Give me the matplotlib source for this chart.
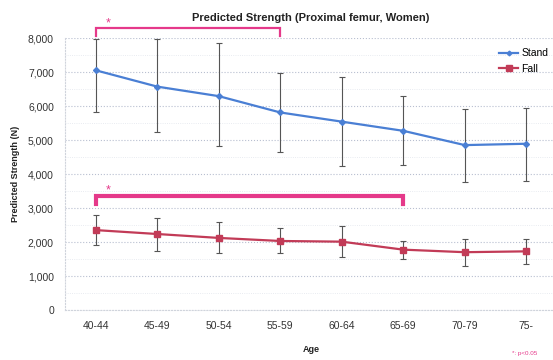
"""Predicted strength of the proximal femur by age group (women)."""

import matplotlib

matplotlib.use("Agg")
import matplotlib.pyplot as plt
from matplotlib.ticker import FuncFormatter, MultipleLocator

ages = ["40-44", "45-49", "50-54", "55-59", "60-64", "65-69", "70-79", "75-"]

stand_mean = [7050, 6570, 6290, 5810, 5540, 5270, 4850, 4890]
stand_upper = [7970, 7960, 7860, 6980, 6840, 6290, 5910, 5940]
stand_lower = [5830, 5230, 4820, 4660, 4240, 4270, 3760, 3800]

fall_mean = [2350, 2235, 2120, 2030, 2010, 1775, 1700, 1725]
fall_upper = [2790, 2700, 2580, 2400, 2470, 2030, 2090, 2100]
fall_lower = [1900, 1735, 1670, 1685, 1560, 1500, 1300, 1345]

# significance brackets: (first group, last group, level, foot, line width)
brackets = [(0, 3, 8290, 8050, 1.6), (0, 5, 3360, 3110, 3.0)]

STAND = "#4a7fd4"
FALL = "#c23b57"
PINK = "#e5398a"
FONT = ["Liberation Sans", "DejaVu Sans"]

plt.rcParams["font.family"] = FONT

fig = plt.figure(figsize=(5.53, 3.6), dpi=100)
ax = fig.add_axes([65 / 553, 1 - 310 / 360, 492 / 553, 272 / 360])

x = list(range(len(ages)))


def draw(mean, upper, lower, color, marker, ms, label):
    yerr = [[m - lo for m, lo in zip(mean, lower)], [u - m for m, u in zip(mean, upper)]]
    ax.errorbar(x, mean, yerr=yerr, fmt="none", ecolor="#555555",
                elinewidth=0.8, capsize=2, capthick=0.8, zorder=2)
    ax.plot(x, mean, color=color, marker=marker, markersize=ms, lw=1.6,
            label=label, zorder=3)


draw(stand_mean, stand_upper, stand_lower, STAND, "D", 3, "Stand")
draw(fall_mean, fall_upper, fall_lower, FALL, "s", 5, "Fall")

for i0, i1, level, foot, lw in brackets:
    ax.plot([i0, i0, i1, i1], [foot, level, level, foot], color=PINK, lw=lw,
            clip_on=False, solid_joinstyle="miter", zorder=4)
    ax.text(i0 + 0.2, level - 30, "*", color=PINK, fontsize=9,
            ha="center", va="bottom", clip_on=False)

ax.set_xlim(-0.5, len(ages) - 0.5)
ax.set_ylim(0, 8000)
ax.set_xticks(x)
ax.set_xticklabels(ages)
ax.yaxis.set_major_locator(MultipleLocator(1000))
ax.yaxis.set_minor_locator(MultipleLocator(500))
ax.yaxis.set_major_formatter(FuncFormatter(lambda v, _: f"{v:,.0f}"))
ax.tick_params(length=0, labelsize=7.5, colors="#333333", pad=8)
ax.tick_params(axis="y", which="minor", length=0)
ax.grid(axis="y", which="major", color="#b8bfd0", ls=":", lw=0.8)
ax.grid(axis="y", which="minor", color="#e2e5ec", ls=":", lw=0.6)
for side in ["top", "right"]:
    ax.spines[side].set_visible(False)
for side in ["left", "bottom"]:
    ax.spines[side].set_color("#d0d4dc")
    ax.spines[side].set_linestyle(":")

ax.set_title("Predicted Strength (Proximal femur, Women)", fontsize=8,
             fontweight="bold", color="#222222", pad=12)
ax.set_ylabel("Predicted Strength (N)", fontsize=6.5, fontweight="bold",
              color="#222222", labelpad=6)
ax.set_xlabel("Age", fontsize=6.5, fontweight="bold", color="#222222", labelpad=10)

ax.legend(loc="upper right", bbox_to_anchor=(0.995, 0.985), frameon=False,
          fontsize=7.5, handlelength=1.8, handletextpad=0.3, labelspacing=0.5,
          borderaxespad=0.2, markerscale=0.8)

fig.text(512 / 553, 1 - 353 / 360, "*: p<0.05", color=PINK, fontsize=4.5,
         ha="left", va="center")

fig.savefig("out.png", dpi=100)
